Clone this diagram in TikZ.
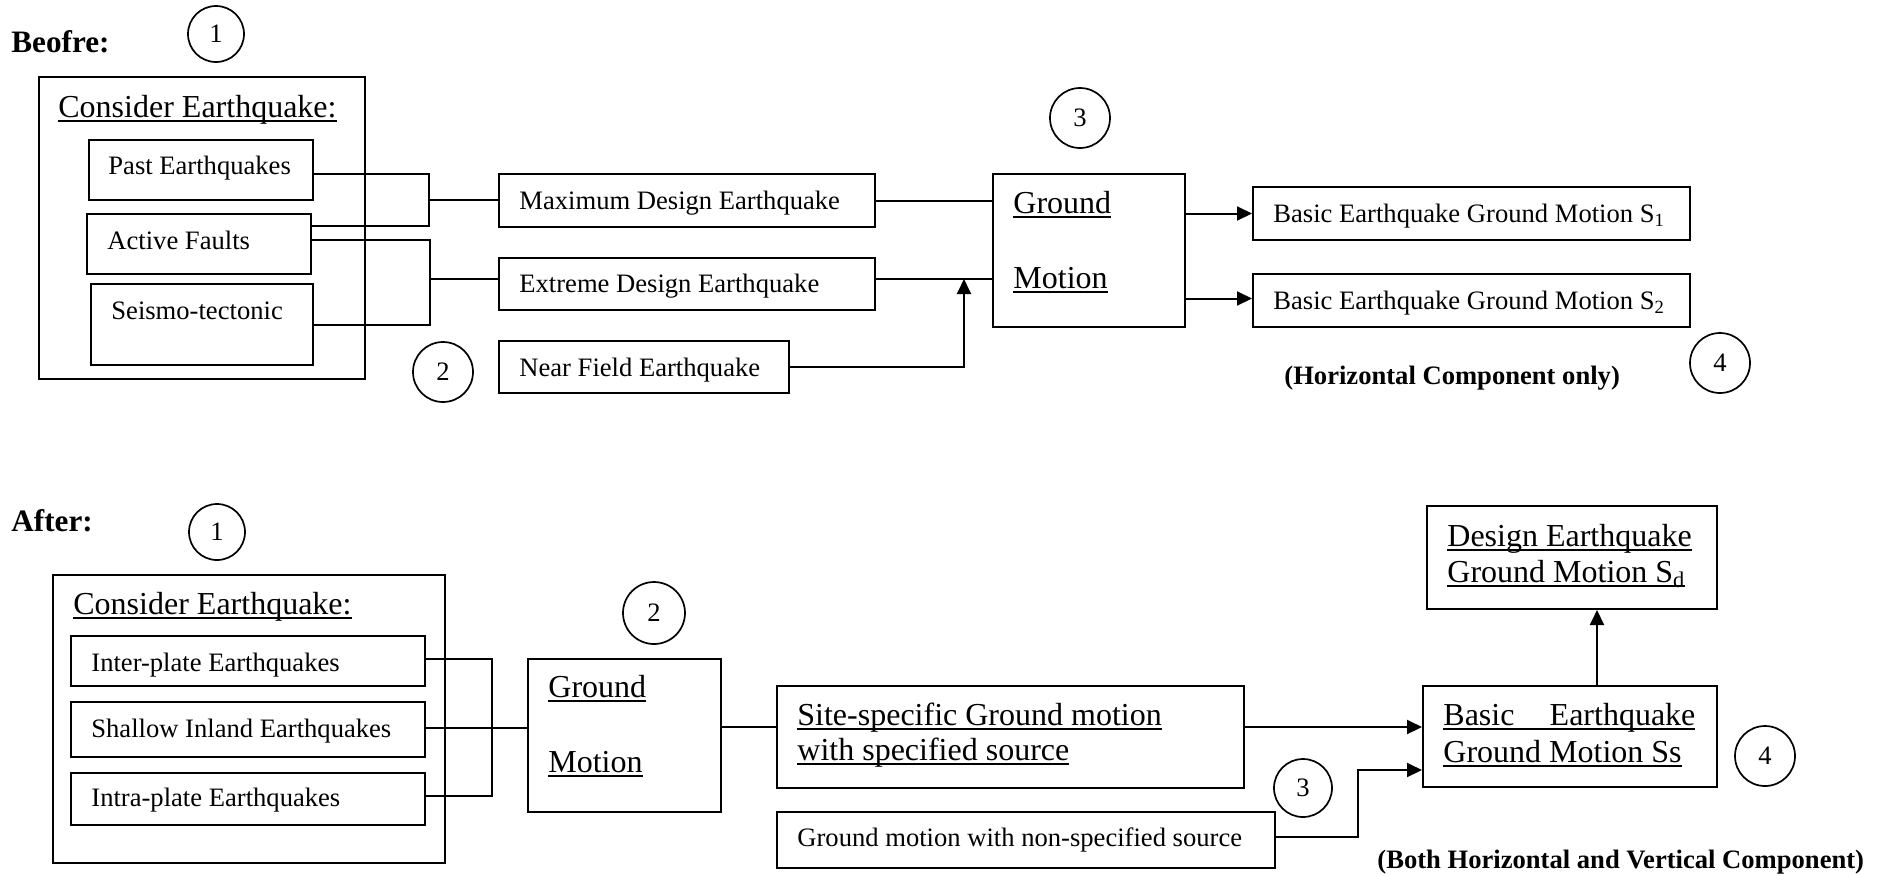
\documentclass[tikz,border=0pt]{standalone}
\usepackage{fontspec}
\setmainfont{Liberation Serif}
\usetikzlibrary{arrows.meta,calc}

% underline at a fixed depth below the baseline
\newcommand\ulx[1]{\setbox0\hbox{#1}\rlap{\rule[-2.5pt]{\wd0}{0.9pt}}\box0}

\begin{document}
\begin{tikzpicture}[x=0.5pt,y=-0.5pt,
  box/.style={draw,line width=1pt,inner sep=0pt,anchor=north west},
  txt/.style={anchor=base west,inner sep=0pt,font=\fontsize{13.3}{16}\selectfont},
  big/.style={anchor=base west,inner sep=0pt,font=\fontsize{16}{19}\selectfont},
  head/.style={anchor=base west,inner sep=0pt,font=\fontsize{15.6}{18}\selectfont\bfseries},
  note/.style={anchor=base west,inner sep=0pt,font=\fontsize{13.3}{16}\selectfont\bfseries},
  num/.style={draw,circle,line width=0.85pt,inner sep=0pt,font=\fontsize{13.3}{16}\selectfont},
  link/.style={line width=1pt},
  arr/.style={link,-{Triangle[length=7.5pt,width=7pt]}}]
\useasboundingbox (0,0) rectangle (1881,875);

% ---------------- Before ----------------
\node[head] (hb) at (11,52) {Beofre:};
\node[num,minimum size=28pt] (cb1) at (216,34) {1};

\node[box,minimum width=163pt,minimum height=151pt] (bout) at (38,76) {};
\node[big] (tcb) at (58,117) {\ulx{Consider Earthquake:}};

\node[box,minimum width=112pt,minimum height=30pt] (past) at (88,139) {};
\node[box,minimum width=112pt,minimum height=30pt] (active) at (86,213) {};
\node[box,minimum width=111pt,minimum height=40.5pt] (seismo) at (90,283) {};
\node[txt] (tpast) at (108,174) {Past Earthquakes};
\node[txt] (tact) at (107,249) {Active Faults};
\node[txt] (tseis) at (111,319) {Seismo-tectonic};

\node[box,minimum width=188pt,minimum height=26.5pt] (maxd) at (498,173) {};
\node[box,minimum width=188pt,minimum height=26pt] (extd) at (498,257) {};
\node[box,minimum width=145pt,minimum height=26pt] (near) at (498,340) {};
\node[txt] (tmax) at (519,209) {Maximum Design Earthquake};
\node[txt] (text) at (519,292) {Extreme Design Earthquake};
\node[txt] (tnear) at (519,376) {Near Field Earthquake};
\node[num,minimum size=30pt] (cb2) at (443,372) {2};

\node[box,minimum width=96pt,minimum height=76.5pt] (gm1) at (992,173) {};
\node[big] (tg1) at (1013,213) {\ulx{Ground}};
\node[big] (tm1) at (1013,288) {\ulx{Motion}};
\node[num,minimum size=30pt] (cb3) at (1080,118) {3};

\node[box,minimum width=218.5pt,minimum height=26.5pt] (s1) at (1252,186) {};
\node[box,minimum width=218.5pt,minimum height=26.5pt] (s2) at (1252,273) {};
\node[txt] (ts1) at (1273,222) {Basic Earthquake Ground Motion S\textsubscript{1}};
\node[txt] (ts2) at (1273,309) {Basic Earthquake Ground Motion S\textsubscript{2}};
\node[note] (nb) at (1284,384) {(Horizontal Component only)};
\node[num,minimum size=30pt] (cb4) at (1720,363) {4};

% connectors
\coordinate (j1) at (429,199.5);
\coordinate (j2) at (430,279);
\coordinate (j3) at (964,279);
\draw[link] ([yshift=-2pt]past.east) -| (j1) |- ([yshift=9pt]active.east);
\draw[link] (j1) -- (j1 -| maxd.west);
\draw[link] ([yshift=2pt]active.east) -| (j2) |- (seismo.east);
\draw[link] (j2) -- (j2 -| extd.west);
\draw[link] (maxd.east) -- (maxd.east -| gm1.west);
\draw[link] (j2 -| extd.east) -- (j2 -| gm1.west);
\draw[arr] (near.east) -| (j3);
\draw[arr] (gm1.east |- s1.west) -- (s1.west);
\draw[arr] ([yshift=1pt]gm1.east |- s2.west) -- ([yshift=1pt]s2.west);

% ---------------- After ----------------
\node[head] (ha) at (11,531) {After:};
\node[num,minimum size=28pt] (ca1) at (217,532) {1};

\node[box,minimum width=196pt,minimum height=144pt] (aout) at (52,574) {};
\node[big] (tca) at (73,614) {\ulx{Consider Earthquake:}};

\node[box,minimum width=177pt,minimum height=25pt] (inter) at (70,635) {};
\node[box,minimum width=177pt,minimum height=27.5pt] (shallow) at (70,701) {};
\node[box,minimum width=177pt,minimum height=26pt] (intra) at (70,772) {};
\node[txt] (tinter) at (91,671) {Inter-plate Earthquakes};
\node[txt] (tshal) at (91,737) {Shallow Inland Earthquakes};
\node[txt] (tintra) at (91,806) {Intra-plate Earthquakes};

\node[box,minimum width=96.5pt,minimum height=76.5pt] (gm2) at (527,658) {};
\node[big] (tg2) at (548,697) {\ulx{Ground}};
\node[big] (tm2) at (548,772) {\ulx{Motion}};
\node[num,minimum size=31pt] (ca2) at (654,613) {2};

\node[box,minimum width=233.5pt,minimum height=51pt] (site) at (776,685) {};
\node[big] (tsite1) at (797,725) {\ulx{Site-specific Ground motion}};
\node[big] (tsite2) at (797,760) {\ulx{with specified source}};

\node[box,minimum width=249pt,minimum height=28pt] (nons) at (776,811) {};
\node[txt] (tnons) at (797,846) {Ground motion with non-specified source};
\node[num,minimum size=29pt] (ca3) at (1303,788) {3};

\node[box,minimum width=145pt,minimum height=51.5pt] (design) at (1426,505) {};
\node[big] (tdes1) at (1447,546) {\ulx{Design Earthquake}};
\node[big] (tdes2) at (1447,582) {\ulx{Ground Motion S\textsubscript{d}}};

\node[box,minimum width=147pt,minimum height=50.5pt] (basic) at (1422,685) {};
\node[big] (tbas1) at (1443,725) {\ulx{\makebox[126pt]{Basic\hfill Earthquake}}};
\node[big] (tbas2) at (1443,762) {\ulx{Ground Motion Ss}};
\node[num,minimum size=30pt] (ca4) at (1765,756) {4};
\node[note] (na) at (1377,868) {(Both Horizontal and Vertical Component)};

% connectors
\coordinate (k1) at (492,726);
\coordinate (k2) at (1358,770);
\coordinate (sin) at ([yshift=5pt]site.west);
\coordinate (bup) at ([xshift=13.5pt]basic.north);
\draw[link] ([yshift=1pt]inter.east) -| (k1) |- ([yshift=1.5pt]intra.east);
\draw[link] ([yshift=1pt]shallow.east) -- ([yshift=1pt]shallow.east -| gm2.west);
\draw[link] (gm2.east |- sin) -- (sin);
\draw[arr] (sin -| site.east) -- (sin -| basic.west);
\draw[arr] ([yshift=1.5pt]nons.east) -| (k2) -- (k2 -| basic.west);
\draw[arr] (bup) -- (bup |- design.south);
\end{tikzpicture}
\end{document}
